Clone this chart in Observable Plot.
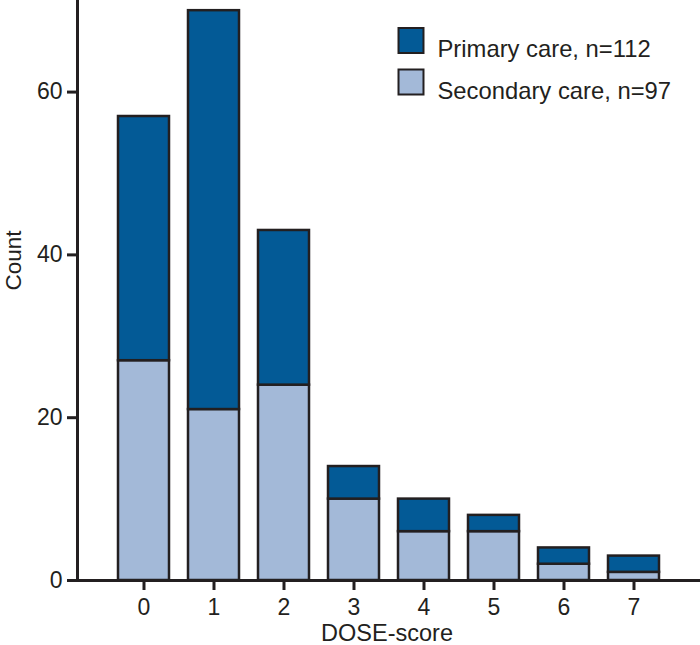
<!DOCTYPE html>
<html><head><meta charset="utf-8">
<script src="https://cdn.jsdelivr.net/npm/d3@7"></script>
<script src="https://cdn.jsdelivr.net/npm/@observablehq/plot@0.6"></script>
<style>body{margin:0;background:#fff} #chart{width:700px;height:645px}</style>
</head><body><div id="chart"></div>
<script>
const scores = ["0","1","2","3","4","5","6","7"];
const primaryCounts = [30,49,19,4,4,2,2,2];
const secondaryCounts = [27,21,24,10,6,6,2,1];
const seriesNames = ["Primary care, n=112","Secondary care, n=97"];
const seriesColors = ["#035a96","#a3b9d8"];
const yTicks = [0,20,40,60];
const xLabel = "DOSE-score";
const yLabel = "Count";

const rows = [
  ...scores.map((s,i)=>({score:s, series:seriesNames[1], count:secondaryCounts[i]})),
  ...scores.map((s,i)=>({score:s, series:seriesNames[0], count:primaryCounts[i]}))
];
const ink = "#231f20";
const font = "'Liberation Sans', Arial, Helvetica, sans-serif";
const plot = Plot.plot({
  width:700, height:645, marginLeft:77, marginRight:0, marginTop:0, marginBottom:65,
  style:{fontFamily:font, fontSize:"23px", color:ink, background:"#fff", overflow:"visible"},
  x:{domain:scores, paddingInner:0.27, paddingOuter:0.58, label:null},
  y:{domain:[0,71.25], label:null},
  color:{domain:seriesNames, range:seriesColors},
  marks:[
    Plot.barY(rows,{x:"score", y:"count", fill:"series", stroke:ink, strokeWidth:2.5}),
    Plot.axisY({ticks:yTicks, tickSize:10, tickPadding:5, strokeWidth:3, fontSize:23, label:null, color:ink}),
    Plot.axisX({tickSize:10, tickPadding:8, strokeWidth:3, fontSize:23, label:null, color:ink}),
    Plot.ruleY([0],{stroke:ink, strokeWidth:3}),
    Plot.frame({anchor:"left", stroke:ink, strokeWidth:3}),
    Plot.text([xLabel], {frameAnchor:"bottom", dx:-2, dy:60, text:d=>d, fontSize:23.5, fill:ink}),
    Plot.text([yLabel], {frameAnchor:"left", dx:-64, rotate:-90, text:d=>d, fontSize:22.5, fill:ink}),
    Plot.dot([seriesNames[0]], {frameAnchor:"top-left", dx:333.5, dy:40, symbol:"square", r:14.1, fill:d=>d, stroke:ink, strokeWidth:2}),
    Plot.dot([seriesNames[1]], {frameAnchor:"top-left", dx:333.5, dy:81.5, symbol:"square", r:14.1, fill:d=>d, stroke:ink, strokeWidth:2}),
    Plot.text([seriesNames[0]], {frameAnchor:"top-left", dx:360, dy:40, text:d=>d, textAnchor:"start", fontSize:23.8, fill:ink}),
    Plot.text([seriesNames[1]], {frameAnchor:"top-left", dx:360, dy:81.5, text:d=>d, textAnchor:"start", fontSize:23.8, fill:ink})
  ]
});
document.getElementById("chart").appendChild(plot);
</script>
</body></html>
